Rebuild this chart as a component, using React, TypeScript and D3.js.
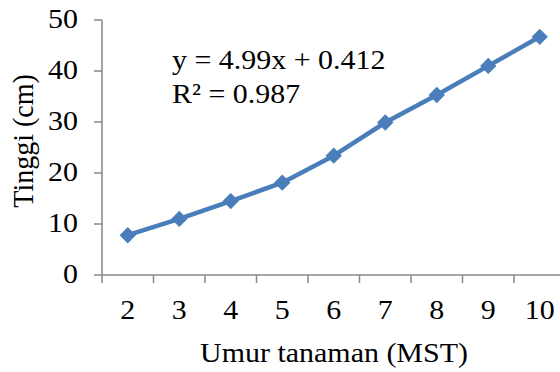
import * as d3 from "d3"

const weeks = ["2", "3", "4", "5", "6", "7", "8", "9", "10"]
const tinggi = [7.8, 11.0, 14.5, 18.1, 23.4, 29.9, 35.3, 41.0, 46.7]
const yTicks = [0, 10, 20, 30, 40, 50]
const equation = ["y = 4.99x + 0.412", "R² = 0.987"]

const W = 560
const H = 372
const FONT = "'Liberation Serif', 'Times New Roman', serif"
const FS = 28
const SX = 1.07
const AXIS = "#888888"
const BLUE = "#4a7ebb"

export default function App() {
  const x = d3.scaleBand<string>().domain(weeks).range([102, 102 + 9 * 51.5])
  const y = d3.scaleLinear().domain([0, 50]).range([275, 20])
  const cx = (w: string) => (x(w) ?? 0) + x.bandwidth() / 2

  const line = d3
    .line<number>()
    .x((_, i) => cx(weeks[i]))
    .y((d) => y(d))

  const diamond = d3.symbol().type(d3.symbolDiamond2).size(170)()

  const txt = (tx: number, ty: number, s: string, anchor = "middle") => (
    <text
      key={s + tx + ty}
      transform={`translate(${tx},${ty}) scale(${SX},1)`}
      textAnchor={anchor}
      fontFamily={FONT}
      fontSize={FS}
      fill="#000"
    >
      {s}
    </text>
  )

  return (
    <svg
      width={W}
      height={H}
      style={{ position: "absolute", left: 0, top: 0, background: "#fff" }}
    >
      {/* y axis */}
      <line x1={102} x2={102} y1={y(50)} y2={y(0)} stroke={AXIS} strokeWidth={1.5} />
      {yTicks.map((t) => (
        <g key={t}>
          <line x1={94} x2={102} y1={y(t)} y2={y(t)} stroke={AXIS} strokeWidth={1.5} />
          {txt(78, y(t) + 8, String(t), "end")}
        </g>
      ))}

      {/* x axis */}
      <line x1={102} x2={W} y1={y(0)} y2={y(0)} stroke={AXIS} strokeWidth={1.5} />
      {weeks.map((w) => (
        <g key={w}>
          <line
            x1={x(w) ?? 0}
            x2={x(w) ?? 0}
            y1={y(0)}
            y2={y(0) + 8}
            stroke={AXIS}
            strokeWidth={1.5}
          />
          {txt(cx(w), 319, w)}
        </g>
      ))}

      {/* series */}
      <path d={line(tinggi) ?? ""} fill="none" stroke={BLUE} strokeWidth={4.5} strokeLinejoin="round" />
      {tinggi.map((v, i) => (
        <path
          key={i}
          d={diamond ?? ""}
          transform={`translate(${cx(weeks[i])},${y(v)})`}
          fill={BLUE}
        />
      ))}

      {/* trendline label */}
      {txt(172, 69, equation[0], "start")}
      {txt(172, 103, equation[1], "start")}

      {/* axis titles */}
      {txt(334, 362, "Umur tanaman (MST)")}
      <text
        transform={`translate(33,141) scale(${SX},1) rotate(-90)`}
        textAnchor="middle"
        fontFamily={FONT}
        fontSize={FS}
        fill="#000"
      >
        Tinggi (cm)
      </text>
    </svg>
  )
}
